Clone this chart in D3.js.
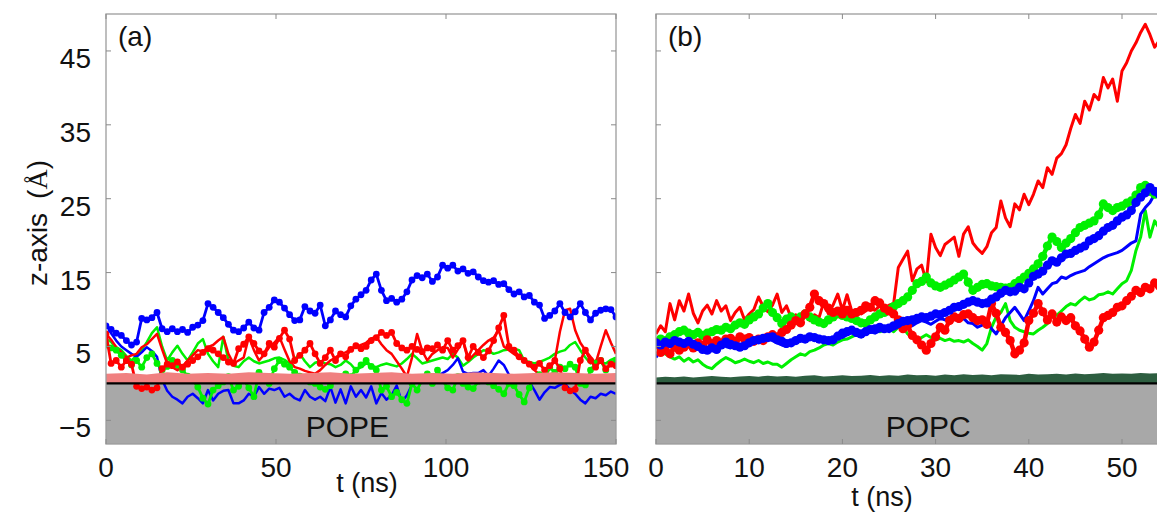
<!DOCTYPE html>
<html>
<head>
<meta charset="utf-8">
<script src="https://cdn.jsdelivr.net/npm/d3@7"></script>
<style>
  body { margin: 0; background: #fff; }
  svg text { font-family: "Liberation Sans", Arial, sans-serif; fill: #111; }
</style>
</head>
<body>
<svg id="chart" width="1157" height="516"></svg>
<script>
// sampling of the traces (ns)
const stepA = 1.5;
const stepB = 0.5;
const yTicks = [-5, 5, 15, 25, 35, 45];
const xTicksA = [0, 50, 100, 150];
const xTicksB = [0, 10, 20, 30, 40, 50, 60];

///////////////////////////////////////
// (a) POPE, t = 0..150 every 1.5 ns
///////////////////////////////////////
const blueDotsA = [
  7.8, 7.3, 6.8, 6.5, 5.8, 5.2, 5.6, 8.8, 8.6, 8.9,
  9.6, 7.4, 7.0, 7.4, 7.0, 7.3, 6.9, 7.6, 7.9, 8.5,
  10.8, 10.3, 9.6, 8.9, 8.0, 7.2, 7.0, 7.5, 8.3, 7.5,
  7.2, 9.6, 10.3, 11.3, 11.0, 10.2, 9.3, 8.5, 8.6, 10.4,
  9.8, 9.5, 10.6, 7.8, 8.6, 9.8, 9.3, 9.0, 10.5, 11.4,
  12.0, 12.6, 14.0, 14.8, 12.6, 11.2, 11.5, 11.0, 11.4, 12.4,
  14.0, 14.6, 14.3, 14.8, 13.8, 14.4, 16.0, 15.6, 16.0, 15.2,
  15.5, 14.9, 15.1, 14.4, 13.9, 13.7, 13.9, 13.4, 13.5, 12.7,
  12.1, 12.4, 11.7, 11.9, 11.0, 10.6, 8.8, 9.2, 9.8, 10.8,
  9.6, 9.0, 9.7, 10.8, 9.6, 8.6, 9.5, 9.9, 10.1, 10.0,
  9.0
];
const redDotsA = [
  6.7, 2.7, 3.1, 2.2, 3.1, 2.6, -0.4, -0.7, -0.5, -0.9,
  -0.6, 2.0, 2.6, 2.4, 2.9, 2.2, 2.6, 3.1, 3.6, 4.2,
  4.7, 4.5, 4.0, 3.5, 2.9, 2.7, 4.7, 5.3, 6.3, 5.4,
  4.4, 4.0, 5.4, 4.9, 6.1, 7.2, 6.0, 3.1, 3.8, 4.5,
  5.4, 4.0, 2.7, 3.5, 4.5, 3.1, 4.0, 3.6, 4.6, 5.1,
  4.7, 5.0, 5.8, 6.2, 6.9, 6.5, 6.9, 5.4, 4.8, 4.5,
  5.0, 4.6, 4.3, 4.8, 4.7, 5.2, 4.5, 5.8, 4.5, 5.1,
  5.8, 3.5, 5.0, 4.2, 3.5, 4.4, 5.8, 7.5, 9.2, 5.0,
  4.5, 3.6, 3.1, 2.6, 2.2, 2.7, 1.8, 2.4, 3.1, 2.0,
  -0.6, -1.0, -0.8, 3.1, 4.5, 3.1, 2.2, 3.1, 2.0, 2.6,
  2.4
];
const greenDotsA = [
  5.2, 4.8, 4.5, 3.8, 3.1, 2.5, 3.1, 2.2, 3.5, 4.0,
  2.7, 1.8, 2.3, 3.1, 2.5, 1.8, 1.0, 0.5, -0.5, -2.0,
  -2.8, -0.9, -0.3, 0.2, 0.9, -0.9, -0.4, 0.5, -0.6, -1.8,
  1.5, 0.6, 0.0, 2.0, 3.1, 2.6, 2.2, 1.5, 1.0, 0.6,
  0.2, 0.0, -0.5, -0.8, -0.3, 0.4, 0.9, 1.3, 0.9, 1.8,
  2.5, 3.1, 2.3, 1.8, -0.9, -0.4, -1.8, -1.2, -2.2, -2.7,
  0.0, -0.9, 0.5, 1.3, 0.0, 1.8, 0.4, -0.6, -0.9, 0.9,
  0.0, -0.5, -0.7, 0.3, 0.8, 0.2, -0.3, -0.8, -1.4, 0.0,
  -0.3, -1.5, -2.5, -0.6, 0.9, 1.2, 0.8, 2.2, 1.5, 2.2,
  2.0, 2.6, 2.2, 0.0, -0.2, 1.8, 2.7, 3.1, 1.8, 2.7,
  3.1
];
const redLineA = [
  6.7, 5.9, 4.9, 4.2, 3.5, 3.8, 4.0, 4.9, 5.3, 6.0,
  6.7, 4.6, 2.7, 2.2, 1.8, 2.3, 3.1, 3.8, 4.5, 4.3,
  4.9, 5.2, 5.8, 6.3, 4.0, 2.7, 3.1, 3.5, 6.3, 4.5,
  3.1, 3.9, 4.9, 5.5, 6.3, 4.6, 3.0, 2.2, 2.0, 1.7,
  1.5, 1.3, 1.8, 2.5, 3.1, 3.5, 4.0, 4.2, 4.6, 4.9,
  5.2, 5.5, 6.1, 6.3, 5.3, 4.5, 4.0, 3.0, 2.0, 0.9,
  3.5, 6.7, 4.4, 3.1, 4.0, 4.5, 4.9, 4.8, 3.5, 4.6,
  5.8, 3.1, 3.8, 4.5, 5.2, 5.8, 6.2, 7.2, 5.0, 4.5,
  4.0, 3.5, 3.1, 2.5, 1.8, 1.2, 0.9, 2.0, 3.1, 7.0,
  9.9, 10.1, 7.2, 5.5, 4.5, 3.6, 2.7, 5.0, 7.2, 5.5,
  4.0
];
const greenLineA = [
  6.0, 5.6, 4.9, 4.5, 3.7, 3.1, 3.8, 4.5, 5.6, 6.8,
  7.6, 5.0, 3.1, 4.2, 5.1, 4.0, 3.1, 4.2, 5.4, 6.0,
  4.0, 3.0, 2.2, 6.3, 3.1, 2.4, 2.2, 3.0, 3.5, 3.0,
  2.7, 2.9, 3.1, 3.4, 3.5, 3.2, 2.7, 3.3, 4.0, 3.0,
  2.2, 2.8, 3.0, 2.7, 2.6, 2.2, 2.5, 3.1, 2.6, 1.8,
  2.2, 2.7, 2.4, 2.2, 2.5, 2.7, 2.5, 2.3, 2.7, 3.3,
  4.0, 3.4, 2.7, 2.9, 3.1, 3.3, 3.5, 3.3, 4.0, 3.5,
  2.4, 2.9, 3.5, 4.0, 4.5, 4.4, 4.0, 4.2, 4.5, 4.6,
  4.7, 4.5, 3.1, 2.9, 2.7, 2.9, 3.2, 3.5, 4.0, 4.3,
  4.5, 5.2, 5.6, 4.5, 3.5, 2.7, 3.1, 2.9, 2.7, 3.2,
  3.5
];
const blueLineA = [
  8.1, 6.8, 5.8, 5.0, 4.5, 4.0, 3.6, 4.2, 4.9, 4.4,
  3.6, 0.5, -1.0, -1.8, -2.2, -2.7, -1.8, -1.4, -2.0, -2.7,
  -0.9, -2.3, -1.4, -1.0, -0.9, -2.7, -2.7, -2.3, -1.4, -1.8,
  -0.5, -1.4, -0.7, -0.9, -0.6, -1.8, -1.4, -2.0, -2.3, -0.9,
  -1.8, -2.2, -1.8, -2.4, -0.5, -2.6, -0.8, -2.7, -0.4, -1.8,
  -0.9, -1.9, -0.4, -2.7, -1.3, -2.2, -1.6, -0.3, -2.5, -1.6,
  -0.2, 0.8, 1.1, 1.0, 1.2, 1.1, 1.4, 1.8, 2.5, 3.4,
  1.6, 1.3, 1.4, 1.4, 1.8, 1.0, 2.0, 3.1, 2.5, 1.2,
  0.5, 0.9, 0.9, 0.2, -0.9, -2.2, -1.2, -0.5, -0.6, -0.2,
  0.0, -0.9, -1.4, -2.2, -2.7, -1.8, -2.0, -1.4, -1.6, -1.1,
  -1.4
];
// headgroup band of (a), every 6 ns
const bandA = [1.3, 1.4, 1.2, 1.5, 1.3, 1.4, 1.3, 1.5, 1.4, 1.3, 1.4, 1.5, 1.3,
  1.4, 1.5, 1.3, 1.4, 1.3, 1.5, 1.4, 1.3, 1.4, 1.5, 1.4, 1.3, 1.4];

///////////////////////////////////////
// (b) POPC, t = 0..54 every 0.5 ns
///////////////////////////////////////
const redLineB = [
  6.7, 7.8, 7.0, 10.8, 8.6, 11.2, 9.8, 12.1, 9.5, 8.2,
  9.8, 10.6, 9.4, 11.2, 9.8, 10.5, 8.5, 9.6, 10.3, 8.6,
  9.4, 10.0, 11.7, 10.4, 9.7, 10.6, 12.1, 9.6, 10.5, 8.9,
  9.3, 8.6, 9.6, 8.5, 9.3, 8.9, 11.0, 9.4, 10.6, 12.1,
  9.9, 12.0, 9.8, 10.0, 9.4, 9.8, 10.2, 9.9, 10.5, 10.1,
  10.6, 10.8, 15.7, 16.8, 17.9, 13.9, 15.5, 16.0, 13.8, 20.2,
  18.4, 17.3, 18.8, 19.3, 19.8, 17.2, 20.2, 21.2, 19.0, 18.2,
  17.6, 18.5, 20.4, 21.1, 24.7, 22.4, 21.2, 24.3, 23.5, 25.6,
  24.2, 25.6, 27.4, 26.5, 29.2, 28.3, 30.5, 31.1, 32.3, 34.5,
  36.4, 35.2, 38.2, 37.0, 39.1, 38.4, 41.4, 40.0, 41.2, 38.2,
  42.3, 43.4, 45.0, 46.1, 47.5, 48.6, 47.2, 45.5, 46.4
];
const redDotsB = [
  5.5, 4.2, 4.5, 4.0, 4.9, 4.5, 4.9, 5.3, 4.8, 5.5,
  5.2, 5.9, 5.4, 5.8, 5.5, 6.0, 6.1, 5.7, 6.3, 6.0,
  6.2, 5.7, 6.0, 5.8, 6.3, 6.6, 6.3, 6.9, 7.3, 7.9,
  8.5, 8.2, 9.4, 10.3, 12.1, 11.2, 10.8, 10.2, 9.6, 9.8,
  9.4, 9.9, 9.4, 9.6, 9.9, 10.5, 10.3, 11.2, 10.9, 10.2,
  9.8, 9.4, 8.6, 7.4, 7.8, 6.5, 5.9, 5.2, 4.5, 5.4,
  6.3, 7.6, 7.2, 8.5, 9.0, 8.8, 9.3, 9.4, 8.9, 8.5,
  8.6, 8.0, 10.8, 9.5, 7.6, 6.9, 5.8, 4.0, 4.5, 5.5,
  8.5, 9.5, 10.8, 9.7, 8.6, 9.4, 8.3, 9.0, 8.5, 8.9,
  7.8, 7.1, 6.0, 4.9, 5.6, 7.2, 8.9, 9.2, 9.6, 10.3,
  10.5, 11.2, 11.8, 12.6, 12.3, 13.0, 12.8, 13.6, 13.2
];
const blueDotsB = [
  5.5, 5.2, 5.6, 5.4, 5.8, 5.6, 5.4, 5.7, 5.3, 5.0,
  4.6, 4.5, 4.8, 4.6, 5.2, 5.6, 5.3, 5.1, 4.9, 5.1,
  5.5, 5.8, 5.9, 6.1, 6.2, 6.3, 5.9, 5.7, 5.4, 5.5,
  5.8, 6.1, 6.0, 6.3, 6.2, 6.0, 5.9, 5.8, 5.9, 6.4,
  6.8, 7.0, 7.2, 6.9, 6.7, 7.0, 7.3, 7.4, 7.6, 7.4,
  7.5, 7.8, 8.1, 8.4, 8.5, 8.6, 8.8, 9.0, 8.9, 9.1,
  9.4, 9.3, 9.6, 9.9, 10.3, 10.4, 10.7, 11.0, 11.2, 11.0,
  10.8, 10.9, 11.4, 11.7, 12.2, 12.6, 12.4, 12.5, 13.0, 12.8,
  13.6, 14.5, 14.8, 15.2, 16.0, 16.6, 16.4, 17.0, 17.5, 17.6,
  18.0, 18.3, 18.6, 19.3, 19.6, 20.0, 20.6, 21.1, 21.4, 22.0,
  22.5, 22.8, 23.4, 24.5, 25.2, 25.8, 26.5, 26.0, 25.6
];
const greenDotsB = [
  5.6, 6.0, 5.8, 6.3, 6.6, 7.0, 7.2, 6.8, 6.6, 6.9,
  6.5, 6.8, 7.0, 7.3, 7.2, 7.6, 7.4, 7.9, 8.2, 8.0,
  8.6, 9.0, 9.4, 10.2, 10.8, 9.6, 8.9, 8.1, 8.7, 9.0,
  8.5, 9.0, 9.4, 9.0, 8.6, 8.3, 8.1, 8.6, 9.0, 9.4,
  9.2, 9.0, 8.8, 8.5, 8.2, 8.1, 8.6, 9.0, 9.4, 9.6,
  10.0, 10.4, 10.8, 11.2, 11.7, 12.6, 13.5, 13.8, 14.4, 13.6,
  13.2, 13.0, 13.3, 13.6, 14.0, 14.4, 14.8, 13.7, 12.6, 13.0,
  13.4, 13.5, 13.2, 13.1, 13.0, 12.9, 13.0, 13.5, 13.9, 14.4,
  14.9, 15.5, 16.2, 17.2, 18.6, 19.8, 19.2, 18.4, 19.0, 19.6,
  20.4, 21.1, 21.4, 21.7, 22.0, 22.8, 24.3, 23.8, 23.4, 23.8,
  24.0, 24.4, 24.7, 25.5, 26.5, 26.8, 26.0, 25.6, 25.8
];
const greenLineB = [
  5.0, 4.4, 4.0, 3.6, 3.3, 3.6, 3.0, 3.4, 2.9, 3.2,
  2.6, 2.2, 2.0, 2.6, 3.1, 3.5, 3.2, 2.8, 3.0, 3.3,
  3.0, 2.8, 3.1, 2.7, 2.9, 2.6, 2.6, 2.2, 2.7, 3.2,
  3.6, 4.0, 3.8, 4.3, 4.5, 4.8, 5.2, 5.4, 5.2, 5.6,
  5.9, 6.0, 6.3, 6.6, 6.8, 7.2, 7.6, 7.3, 7.0, 7.2,
  7.4, 7.0, 7.6, 7.6, 6.7, 6.2, 5.8, 6.2, 6.6, 6.2,
  5.9, 6.1, 5.8, 6.0, 5.7, 5.8, 5.6, 5.9, 5.4, 5.0,
  4.5, 5.4, 7.6, 9.0, 9.6, 10.8, 8.5, 7.6, 7.2, 7.0,
  6.8, 6.7, 7.2, 7.6, 8.1, 9.4, 9.2, 9.8, 10.4, 10.8,
  10.6, 11.2, 11.7, 11.3, 11.5, 12.0, 12.1, 12.4, 12.1, 12.8,
  13.5, 13.9, 15.3, 18.0, 19.8, 23.4, 19.8, 22.0, 21.0
];
const blueLineB = [
  3.5, 4.6, 5.2, 5.0, 5.4, 5.1, 5.5, 5.2, 4.9, 4.7,
  4.3, 4.8, 5.1, 4.9, 5.3, 5.0, 4.8, 5.2, 5.0, 5.4,
  5.7, 5.5, 5.8, 5.6, 6.0, 5.8, 5.5, 5.2, 5.0, 5.4,
  5.6, 5.9, 5.7, 6.0, 6.2, 5.8, 5.6, 5.9, 6.1, 6.4,
  6.2, 6.6, 6.9, 6.5, 6.3, 6.7, 7.0, 6.8, 7.1, 7.3,
  7.0, 7.4, 7.6, 7.9, 8.1, 7.8, 8.2, 8.5, 8.3, 8.0,
  8.4, 8.8, 8.6, 9.0, 8.7, 8.4, 8.8, 8.2, 8.1, 7.6,
  7.9, 8.5, 7.4, 6.7, 7.8, 8.9, 9.6, 10.3, 9.4, 8.5,
  9.8, 11.2, 13.0, 12.1, 12.8, 13.5, 13.7, 14.4, 14.2, 14.6,
  14.9, 15.1, 15.3, 15.8, 16.2, 16.6, 17.0, 17.3, 17.5, 17.7,
  18.0, 18.5, 19.0, 19.3, 22.9, 23.8, 24.5, 25.6, 26.0
];
// headgroup band of (b), every 1 ns
const bandB = [
  0.80, 0.90, 0.85, 0.95, 0.80, 0.90, 1.00, 0.90, 0.85, 0.95,
  1.00, 0.90, 1.05, 0.95, 1.00, 0.90, 1.05, 1.10, 0.95, 1.00,
  1.10, 1.00, 1.05, 1.15, 1.00, 1.10, 1.05, 1.20, 1.10, 1.15,
  1.05, 1.20, 1.10, 1.25, 1.15, 1.20, 1.10, 1.25, 1.20, 1.15,
  1.30, 1.20, 1.25, 1.30, 1.20, 1.35, 1.25, 1.30, 1.40, 1.30,
  1.35, 1.30, 1.40, 1.35, 1.40
];

const RED = "#ff0000", GREEN = "#00f000", BLUE = "#0000ff";

const svg = d3.select("#chart");
const plotTop = 14, plotBottom = 444;
const y = d3.scaleLinear().domain([-8.2, 50]).range([plotBottom, plotTop]);
const xA = d3.scaleLinear().domain([0, 150]).range([106, 616]);
const xB = d3.scaleLinear().domain([0, 60]).range([656, 1215.2]);

const toPoints = function (vals, step) {
  return vals.map(function (v, i) { return { t: i * step, v: v }; });
};

const drawPanel = function (id, x, cfg) {
  const g = svg.append("g").attr("class", "panel-" + id);
  const x0 = x.range()[0], x1 = x.range()[1];

  g.append("clipPath").attr("id", "clip-" + id)
    .append("rect")
    .attr("x", x0).attr("y", plotTop)
    .attr("width", x1 - x0).attr("height", plotBottom - plotTop);

  // membrane (gray) below z = 0
  g.append("rect")
    .attr("x", x0).attr("y", y(0))
    .attr("width", x1 - x0).attr("height", plotBottom - y(0))
    .attr("fill", "#a8a8a8");

  const inner = g.append("g").attr("clip-path", "url(#clip-" + id + ")");
  const line = d3.line()
    .x(function (d) { return x(d.t); })
    .y(function (d) { return y(d.v); });

  cfg.series.forEach(function (s) {
    const pts = toPoints(s.vals, cfg.step);
    inner.append("path")
      .datum(pts)
      .attr("fill", "none")
      .attr("stroke", s.color)
      .attr("stroke-width", s.dots ? cfg.dotLine : cfg.thinLine)
      .attr("stroke-linejoin", "round")
      .attr("d", line);
    if (s.dots) {
      inner.append("g")
        .selectAll("circle")
        .data(pts)
        .enter().append("circle")
        .attr("cx", function (d) { return x(d.t); })
        .attr("cy", function (d) { return y(d.v); })
        .attr("r", cfg.dotR)
        .attr("fill", s.color);
    }
  });

  // headgroup band on top of the traces
  const band = d3.area()
    .x(function (d) { return x(d.t); })
    .y0(y(0))
    .y1(function (d) { return y(d.v); });
  inner.append("path")
    .datum(toPoints(cfg.band, cfg.bandStep))
    .attr("fill", cfg.bandColor)
    .attr("d", band);

  inner.append("line")
    .attr("x1", x0).attr("x2", x1)
    .attr("y1", y(0)).attr("y2", y(0))
    .attr("stroke", "#000").attr("stroke-width", 2.2);

  // frame + inward ticks
  g.append("rect")
    .attr("x", x0).attr("y", plotTop)
    .attr("width", x1 - x0).attr("height", plotBottom - plotTop)
    .attr("fill", "none").attr("stroke", "#9c9c9c").attr("stroke-width", 1.3);

  const tk = 5;
  const ticks = g.append("g").attr("stroke", "#8a8a8a").attr("stroke-width", 1);
  cfg.xTicks.forEach(function (t) {
    ticks.append("line").attr("x1", x(t)).attr("x2", x(t))
      .attr("y1", plotTop).attr("y2", plotTop + tk);
    ticks.append("line").attr("x1", x(t)).attr("x2", x(t))
      .attr("y1", plotBottom).attr("y2", plotBottom - tk);
  });
  yTicks.forEach(function (v) {
    ticks.append("line").attr("x1", x0).attr("x2", x0 + tk)
      .attr("y1", y(v)).attr("y2", y(v));
    ticks.append("line").attr("x1", x1).attr("x2", x1 - tk)
      .attr("y1", y(v)).attr("y2", y(v));
  });

  // x tick labels
  g.append("g").selectAll("text")
    .data(cfg.xTicks.filter(function (t) { return x(t) < 1157; }))
    .enter().append("text")
    .attr("x", function (t) { return x(t); })
    .attr("dx", function (t, i, arr) { return (cfg.lastShift && i === arr.length - 1) ? cfg.lastShift : 0; })
    .attr("y", 477)
    .attr("text-anchor", "middle")
    .attr("font-size", 28)
    .text(function (t) { return t; });

  g.append("text")
    .attr("x", cfg.xLabel[0]).attr("y", cfg.xLabel[1])
    .attr("text-anchor", "middle").attr("font-size", 27)
    .text("t (ns)");

  g.append("text")
    .attr("x", x0 + 12).attr("y", 46)
    .attr("font-size", 28)
    .text(cfg.tag);

  g.append("text")
    .attr("x", x(cfg.lipidAt)).attr("y", 437)
    .attr("text-anchor", "middle").attr("font-size", 30)
    .text(cfg.lipid);
};

drawPanel("a", xA, {
  step: stepA,
  series: [
    { vals: greenLineA, color: GREEN, dots: false },
    { vals: blueLineA, color: BLUE, dots: false },
    { vals: redLineA, color: RED, dots: false },
    { vals: greenDotsA, color: GREEN, dots: true },
    { vals: redDotsA, color: RED, dots: true },
    { vals: blueDotsA, color: BLUE, dots: true }
  ],
  thinLine: 2.5, dotLine: 2.8, dotR: 3.4,
  band: bandA, bandStep: 6, bandColor: "#f08080",
  xTicks: xTicksA, lastShift: -10,
  xLabel: [367, 492],
  tag: "(a)", lipid: "POPE", lipidAt: 71
});

drawPanel("b", xB, {
  step: stepB,
  series: [
    { vals: greenLineB, color: GREEN, dots: false },
    { vals: blueLineB, color: BLUE, dots: false },
    { vals: redLineB, color: RED, dots: false },
    { vals: greenDotsB, color: GREEN, dots: true },
    { vals: redDotsB, color: RED, dots: true },
    { vals: blueDotsB, color: BLUE, dots: true }
  ],
  thinLine: 3, dotLine: 4.5, dotR: 4.6,
  band: bandB, bandStep: 1, bandColor: "#2d5e40",
  xTicks: xTicksB, lastShift: 0,
  xLabel: [882, 506],
  tag: "(b)", lipid: "POPC", lipidAt: 29.2
});

// y tick labels (left panel only)
svg.append("g").selectAll("text")
  .data(yTicks)
  .enter().append("text")
  .attr("x", 91)
  .attr("y", function (v) { return y(v) + 17; })
  .attr("text-anchor", "end")
  .attr("font-size", 28)
  .text(function (v) { return v < 0 ? "\u2212" + Math.abs(v) : v; });

const yLab = svg.append("text")
  .attr("transform", "translate(47,223) rotate(-90)")
  .attr("text-anchor", "middle")
  .attr("font-size", 28);
yLab.append("tspan").text("z-axis");
yLab.append("tspan").attr("dx", 14).text("(");
yLab.append("tspan").style("font-family", "'Liberation Serif', 'DejaVu Serif', serif").text("\u00C5");
yLab.append("tspan").text(")");
</script>
</body>
</html>
